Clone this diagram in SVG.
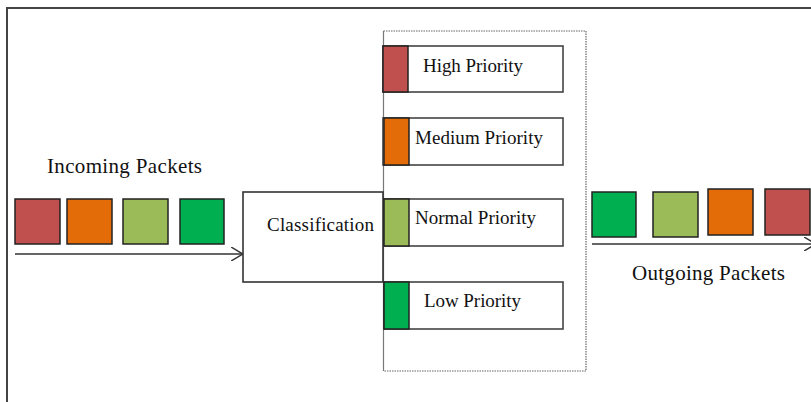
<svg xmlns="http://www.w3.org/2000/svg" width="811" height="402" viewBox="0 0 811 402">
<style>
text{font-family:"Liberation Serif","Times New Roman",serif;fill:#111;}
.lbl{font-size:19px;}
.big{font-size:21px;}
.pkt{stroke:#222;stroke-width:1.5;}
.pbox{fill:#fff;stroke:#444;stroke-width:1.6;}
.red{fill:#C0504D;}.orange{fill:#E36C09;}.lgreen{fill:#9BBB59;}.green{fill:#00B050;}
.conn{stroke:#333;stroke-width:1.5;fill:none;}
</style>
<defs>
<marker id="open" viewBox="0 0 12 14" refX="12" refY="7" markerWidth="12" markerHeight="14" markerUnits="userSpaceOnUse" orient="auto">
<path d="M0,0 L12,7 L0,14" fill="none" stroke="#333" stroke-width="1.5"/>
</marker>
</defs>
<rect x="0" y="0" width="811" height="402" fill="#fff"/>
<path d="M7,402 V8 H811" fill="none" stroke="#444" stroke-width="2"/>
<g id="queue-container">
<path d="M383.5,31 H586 V371 H383.5" fill="none" stroke="#666" stroke-width="1.2" stroke-dasharray="1.5,1"/>
<line x1="383.5" y1="31" x2="383.5" y2="371" stroke="#777" stroke-width="1.2"/>
</g>
<g id="incoming">
<text class="big" x="47" y="173" textLength="155">Incoming Packets</text>
<rect class="pkt red" x="15" y="199" width="45" height="45"/>
<rect class="pkt orange" x="67" y="199" width="45" height="45"/>
<rect class="pkt lgreen" x="123" y="199" width="45" height="45"/>
<rect class="pkt green" x="180" y="199" width="44" height="45"/>
</g>
<g id="classification">
<rect x="243" y="192" width="140" height="90" fill="#fff" stroke="#333" stroke-width="1.6"/>
<text class="lbl" x="267" y="231" textLength="107">Classification</text>
</g>
<g id="high">
<rect class="pbox" x="383" y="46" width="180" height="46"/>
<rect class="pkt red" x="383" y="46" width="25" height="46"/>
<text class="lbl" x="423" y="72" textLength="100">High Priority</text>
</g>
<g id="medium">
<rect class="pbox" x="383" y="118" width="180" height="47"/>
<rect class="pkt orange" x="384" y="118" width="25" height="47"/>
<text class="lbl" x="415" y="144" textLength="128">Medium Priority</text>
</g>
<g id="normal">
<rect class="pbox" x="384" y="199" width="179" height="47"/>
<rect class="pkt lgreen" x="384" y="199" width="25" height="47"/>
<text class="lbl" x="415" y="224" textLength="121">Normal Priority</text>
</g>
<g id="low">
<rect class="pbox" x="384" y="282" width="179" height="47"/>
<rect class="pkt green" x="384" y="282" width="25" height="47"/>
<text class="lbl" x="424" y="307" textLength="97">Low Priority</text>
</g>
<g id="outgoing">
<rect class="pkt green" x="592" y="192" width="44" height="45"/>
<rect class="pkt lgreen" x="653" y="192" width="45" height="45"/>
<rect class="pkt orange" x="708" y="189" width="45" height="46"/>
<rect class="pkt red" x="765" y="189" width="45" height="46"/>
<text class="big" x="632" y="280" textLength="153">Outgoing Packets</text>
</g>
<g id="connectors">
<line class="conn" x1="15" y1="254" x2="243" y2="254" marker-end="url(#open)"/>
<line class="conn" x1="592" y1="244" x2="816" y2="244" marker-end="url(#open)"/>
</g>
</svg>
